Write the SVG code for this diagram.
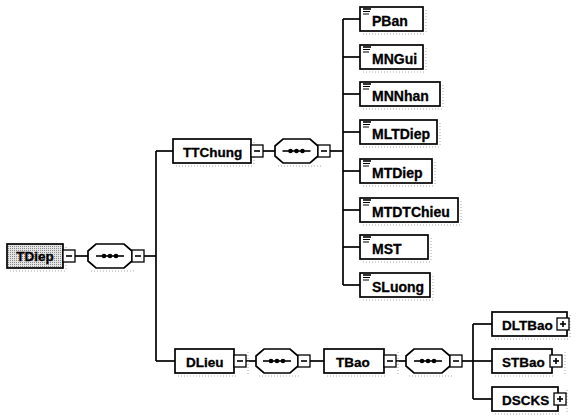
<svg xmlns="http://www.w3.org/2000/svg" width="576" height="419" viewBox="0 0 576 419">
<defs>
<style>
.box{fill:#fff;stroke:#000;stroke-width:1.7}
.root{stroke:#000;stroke-width:1.7}
.btn{fill:#fff;stroke:#000;stroke-width:1.3}
.sym{stroke:#000;stroke-width:1.6;fill:none}
.ln{stroke:#000;stroke-width:1.7;fill:none}
.sh{stroke:#aaa;stroke-width:1;stroke-dasharray:1 2;fill:none}
.t{font-family:"Liberation Sans",Arial,sans-serif;font-weight:bold;font-size:13.5px;fill:#000;stroke:#000;stroke-width:0.3}
.tc{font-family:"Liberation Sans",Arial,sans-serif;font-weight:bold;font-size:14px;fill:#000;stroke:#000;stroke-width:0.3}
.ic{stroke:#000;stroke-width:1}
</style>
<pattern id="dots" width="2" height="2" patternUnits="userSpaceOnUse">
<rect width="2" height="2" fill="#e4e4e4"/>
<rect width="1" height="1" fill="#888"/>
</pattern>
<g id="seqsym">
<line x1="-14" y1="0" x2="14" y2="0" class="sym"/>
<circle cx="-6" cy="0" r="2.3"/>
<circle cx="0" cy="0" r="2.3"/>
<circle cx="6" cy="0" r="2.3"/>
</g>
<g id="docic">
<line x1="0" y1="0" x2="8" y2="0" stroke="#000" stroke-width="1.6"/>
<line x1="0" y1="2.5" x2="7" y2="2.5" class="ic"/>
<line x1="0" y1="5" x2="6" y2="5" class="ic"/>
</g>
</defs>
<rect width="576" height="419" fill="#fff"/>

<g id="connectors">
<line x1="75" y1="256" x2="88" y2="256" class="ln"/>
<line x1="144" y1="256" x2="156" y2="256" class="ln"/>
<line x1="156" y1="151" x2="156" y2="361" class="ln"/>
<line x1="156" y1="151" x2="173" y2="151" class="ln"/>
<line x1="156" y1="361" x2="175" y2="361" class="ln"/>
<line x1="263" y1="151" x2="275" y2="151" class="ln"/>
<line x1="330" y1="151" x2="343" y2="151" class="ln"/>
<line x1="343" y1="19" x2="343" y2="285" class="ln"/>
<line x1="343" y1="19" x2="360" y2="19" class="ln"/>
<line x1="343" y1="57" x2="360" y2="57" class="ln"/>
<line x1="343" y1="94" x2="360" y2="94" class="ln"/>
<line x1="343" y1="132" x2="360" y2="132" class="ln"/>
<line x1="343" y1="171" x2="360" y2="171" class="ln"/>
<line x1="343" y1="210" x2="360" y2="210" class="ln"/>
<line x1="343" y1="247" x2="360" y2="247" class="ln"/>
<line x1="343" y1="285" x2="360" y2="285" class="ln"/>
<line x1="246" y1="361" x2="256" y2="361" class="ln"/>
<line x1="310" y1="361" x2="324" y2="361" class="ln"/>
<line x1="396" y1="361" x2="406" y2="361" class="ln"/>
<line x1="462" y1="361" x2="473" y2="361" class="ln"/>
<line x1="473" y1="324" x2="473" y2="399" class="ln"/>
<line x1="473" y1="324" x2="492" y2="324" class="ln"/>
<line x1="473" y1="361" x2="492" y2="361" class="ln"/>
<line x1="473" y1="399" x2="492" y2="399" class="ln"/>
</g>

<g id="TDiep">
<path d="M10 271 H66 M66 247 V271" class="sh"/>
<rect x="7" y="244" width="56" height="24" class="root" fill="url(#dots)"/>
<text x="35" y="261" class="t" text-anchor="middle">TDiep</text>
<rect x="63" y="250" width="12" height="12" class="btn"/>
<line x1="66" y1="256" x2="72" y2="256" class="sym"/>
</g>

<g id="seq1">
<path d="M91 271 H135" class="sh"/>
<polygon points="96,244 124,244 132,251 132,261 124,268 96,268 88,261 88,251" class="box"/>
<use href="#seqsym" x="110" y="256"/>
<rect x="132" y="250" width="12" height="12" class="btn"/>
<line x1="135" y1="256" x2="141" y2="256" class="sym"/>
</g>

<g id="TTChung">
<path d="M176 166 H254 M254 142 V166" class="sh"/>
<rect x="173" y="139" width="78" height="24" class="box"/>
<text x="183" y="157" class="t">TTChung</text>
<rect x="251" y="145" width="12" height="12" class="btn"/>
<line x1="254" y1="151" x2="260" y2="151" class="sym"/>
</g>

<g id="seq2">
<path d="M278 166 H321" class="sh"/>
<polygon points="283,139 310,139 318,146 318,156 310,163 283,163 275,156 275,146" class="box"/>
<use href="#seqsym" x="296.5" y="151"/>
<rect x="318" y="145" width="12" height="12" class="btn"/>
<line x1="321" y1="151" x2="327" y2="151" class="sym"/>
</g>

<g id="PBan">
<path d="M363 34 H426 M426 10 V34" class="sh"/>
<rect x="360" y="7" width="63" height="24" class="box"/>
<use href="#docic" x="363" y="9"/>
<text x="372" y="26" class="tc">PBan</text>
</g>
<g id="MNGui">
<path d="M363 72 H426 M426 48 V72" class="sh"/>
<rect x="360" y="45" width="63" height="24" class="box"/>
<use href="#docic" x="363" y="47"/>
<text x="372" y="64" class="tc">MNGui</text>
</g>
<g id="MNNhan">
<path d="M363 109 H443 M443 85 V109" class="sh"/>
<rect x="360" y="82" width="80" height="24" class="box"/>
<use href="#docic" x="363" y="84"/>
<text x="372" y="101" class="tc">MNNhan</text>
</g>
<g id="MLTDiep">
<path d="M363 147 H440 M440 123 V147" class="sh"/>
<rect x="360" y="120" width="77" height="24" class="box"/>
<use href="#docic" x="363" y="122"/>
<text x="372" y="139" class="tc">MLTDiep</text>
</g>
<g id="MTDiep">
<path d="M363 186 H435 M435 162 V186" class="sh"/>
<rect x="360" y="159" width="72" height="24" class="box"/>
<use href="#docic" x="363" y="161"/>
<text x="372" y="178" class="tc">MTDiep</text>
</g>
<g id="MTDTChieu">
<path d="M363 225 H461 M461 201 V225" class="sh"/>
<rect x="360" y="198" width="98" height="24" class="box"/>
<use href="#docic" x="363" y="200"/>
<text x="372" y="217" class="tc">MTDTChieu</text>
</g>
<g id="MST">
<path d="M363 262 H431 M431 238 V262" class="sh"/>
<rect x="360" y="235" width="68" height="24" class="box"/>
<use href="#docic" x="363" y="237"/>
<text x="372" y="254" class="tc">MST</text>
</g>
<g id="SLuong">
<path d="M363 300 H433 M433 276 V300" class="sh"/>
<rect x="360" y="273" width="70" height="24" class="box"/>
<use href="#docic" x="363" y="275"/>
<text x="372" y="292" class="tc">SLuong</text>
</g>

<g id="DLieu">
<path d="M178 376 H237 M248 352 V376" class="sh"/>
<rect x="175" y="349" width="59" height="24" class="box"/>
<text x="186" y="367" class="t">DLieu</text>
<rect x="234" y="355" width="12" height="12" class="btn"/>
<line x1="237" y1="361" x2="243" y2="361" class="sym"/>
</g>

<g id="seq3">
<path d="M259 376 H301" class="sh"/>
<polygon points="264,349 290,349 298,356 298,366 290,373 264,373 256,366 256,356" class="box"/>
<use href="#seqsym" x="277" y="361"/>
<rect x="298" y="355" width="12" height="12" class="btn"/>
<line x1="301" y1="361" x2="307" y2="361" class="sym"/>
</g>

<g id="TBao">
<path d="M327 376 H387 M398 352 V376" class="sh"/>
<rect x="324" y="349" width="60" height="24" class="box"/>
<text x="336" y="367" class="t">TBao</text>
<rect x="384" y="355" width="12" height="12" class="btn"/>
<line x1="387" y1="361" x2="393" y2="361" class="sym"/>
</g>

<g id="seq4">
<path d="M409 376 H453" class="sh"/>
<polygon points="414,349 442,349 450,356 450,366 442,373 414,373 406,366 406,356" class="box"/>
<use href="#seqsym" x="428" y="361"/>
<rect x="450" y="355" width="12" height="12" class="btn"/>
<line x1="453" y1="361" x2="459" y2="361" class="sym"/>
</g>

<g id="DLTBao">
<path d="M495 339 H570 M570 315 V339" class="sh"/>
<rect x="492" y="312" width="75" height="24" class="box"/>
<text x="502" y="330" class="t">DLTBao</text>
<rect x="557" y="318" width="12" height="12" class="btn"/>
<line x1="560" y1="324" x2="566" y2="324" class="sym"/>
<line x1="563" y1="321" x2="563" y2="327" class="sym"/>
</g>
<g id="STBao">
<path d="M495 376 H555 M565 352 V376" class="sh"/>
<rect x="492" y="349" width="60" height="24" class="box"/>
<text x="502" y="367" class="t">STBao</text>
<rect x="550" y="355" width="12" height="12" class="btn"/>
<line x1="553" y1="361" x2="559" y2="361" class="sym"/>
<line x1="556" y1="358" x2="556" y2="364" class="sym"/>
</g>
<g id="DSCKS">
<path d="M495 414 H561 M567 390 V414" class="sh"/>
<rect x="492" y="387" width="66" height="24" class="box"/>
<text x="502" y="405" class="t">DSCKS</text>
<rect x="554" y="393" width="12" height="12" class="btn"/>
<line x1="557" y1="399" x2="563" y2="399" class="sym"/>
<line x1="560" y1="396" x2="560" y2="402" class="sym"/>
</g>
</svg>
